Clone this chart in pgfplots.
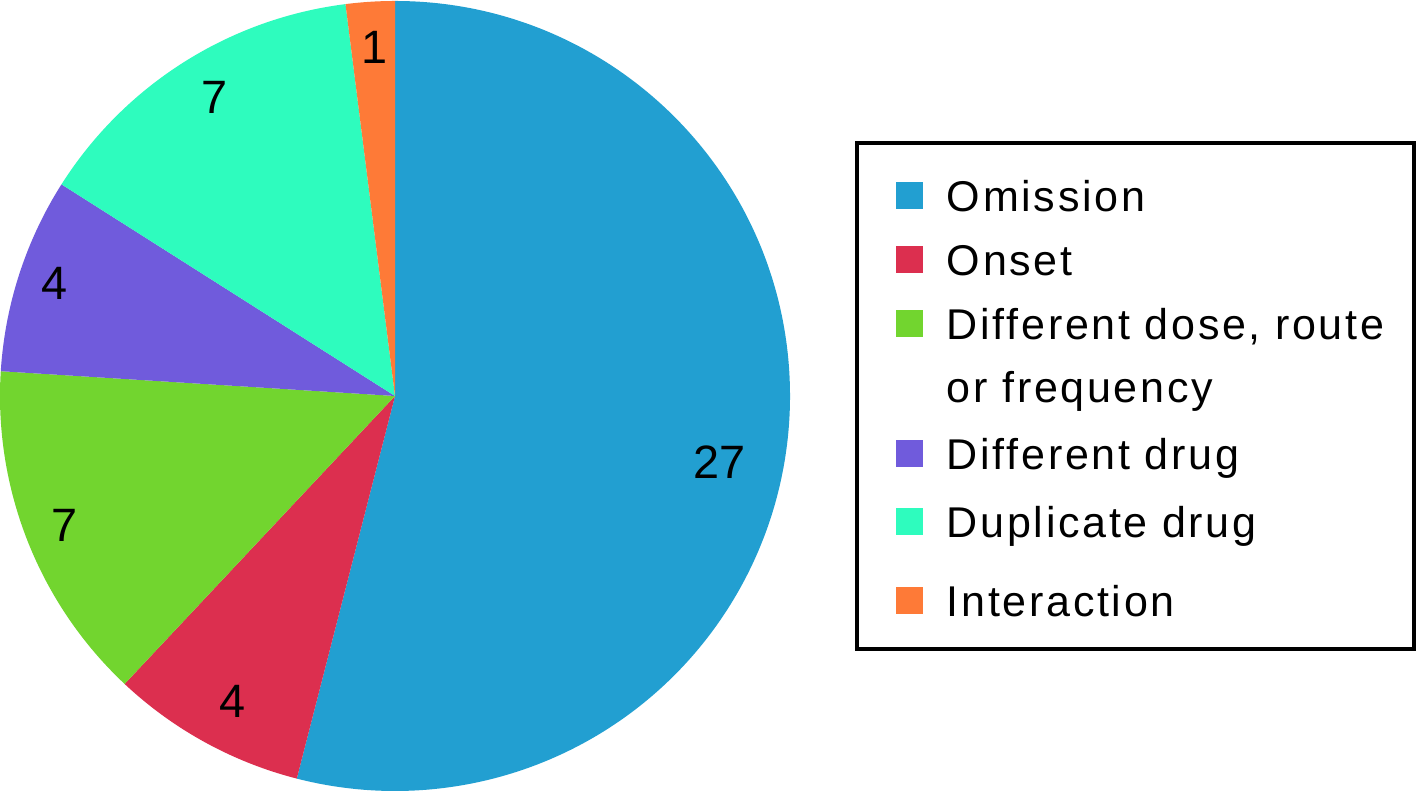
\documentclass[border=0pt]{standalone}
\usepackage{pgfplots}
\pgfplotsset{compat=1.18}
\usepackage{fontspec}
\setmainfont{Liberation Sans}
\newfontfamily\legfamily[LetterSpace=6.2]{Liberation Sans}
\definecolor{c1}{HTML}{229FD1}
\definecolor{c2}{HTML}{DC2F4F}
\definecolor{c3}{HTML}{72D52F}
\definecolor{c4}{HTML}{705BDC}
\definecolor{c5}{HTML}{2EFCBE}
\definecolor{c6}{HTML}{FE7A37}
\newcommand{\legfont}{\legfamily\fontsize{21.6}{26}\selectfont}
\newcommand{\numfont}{\fontsize{23.5}{28}\selectfont}
% #1 cumulative count before the slice, #2 count, #3 colour (total = 50, 7.2 degrees per count)
\newcommand{\slice}[3]{%
  \fill[#3, overlay] (axis cs:395,396) -- ++({90-#1*7.2}:197.5bp)
    arc[start angle={90-#1*7.2}, end angle={90-(#1+#2)*7.2}, radius=197.5bp] -- cycle;}
% #1 cumulative, #2 count, #3 radius, #4 angle offset
\newcommand{\slabel}[4]{%
  \path (axis cs:395,396) ++({90-(#1+#2/2)*7.2+#4}:#3) node[font=\numfont, inner sep=0pt] {#2};}
% #1 height above baseline of the row, #2 text
\newcommand{\legtext}[2]{\rule{0pt}{#1}\makebox[214bp][l]{#2}}
\begin{document}
\begin{tikzpicture}
\begin{axis}[
  x=0.5bp, y=0.5bp, xmin=0, xmax=1424, ymin=0, ymax=792,
  hide axis, scale only axis, clip=false,
  legend image code/.code={\fill[#1] (0bp,1bp) rectangle (13.5bp,14.5bp);},
  legend style={at={(0.7974,0.5)}, anchor=center, draw=black, line width=2bp,
    inner xsep=19.5bp, inner ysep=16.5bp, font=\legfont,
    nodes={inner sep=0pt, text depth=0pt}, column sep=12bp, row sep=0pt,
    cells={anchor=base west}},
]
\path (axis cs:0,0) rectangle (axis cs:1424,792);
\slice{0}{27}{c1}
\slice{27}{4}{c2}
\slice{31}{7}{c3}
\slice{38}{4}{c4}
\slice{42}{7}{c5}
\slice{49}{1}{c6}
\slabel{0}{27}{165.5bp}{-4.4}
\slabel{27}{4}{173bp}{0.8}
\slabel{31}{7}{177.5bp}{-0.2}
\slabel{38}{4}{179.5bp}{-0.3}
\slabel{42}{7}{174.5bp}{-1.3}
\slabel{49}{1}{174.5bp}{-0.3}
\addlegendimage{fill=c1, draw=none}\addlegendentry{\legtext{17.75bp}{Omission}}
\addlegendimage{fill=c2, draw=none}\addlegendentry{\legtext{32bp}{Onset}}
\addlegendimage{fill=c3, draw=none}\addlegendentry{\legtext{32bp}{Different dose, route}}
\addlegendimage{empty legend}\addlegendentry{\legtext{31.5bp}{or frequency}}
\addlegendimage{fill=c4, draw=none}\addlegendentry{\legtext{33.5bp}{Different drug}}
\addlegendimage{fill=c5, draw=none}\addlegendentry{\legtext{34bp}{Duplicate drug}}
\addlegendimage{fill=c6, draw=none}\addlegendentry{\legtext{39.5bp}{Interaction}}
\end{axis}
\end{tikzpicture}
\end{document}
